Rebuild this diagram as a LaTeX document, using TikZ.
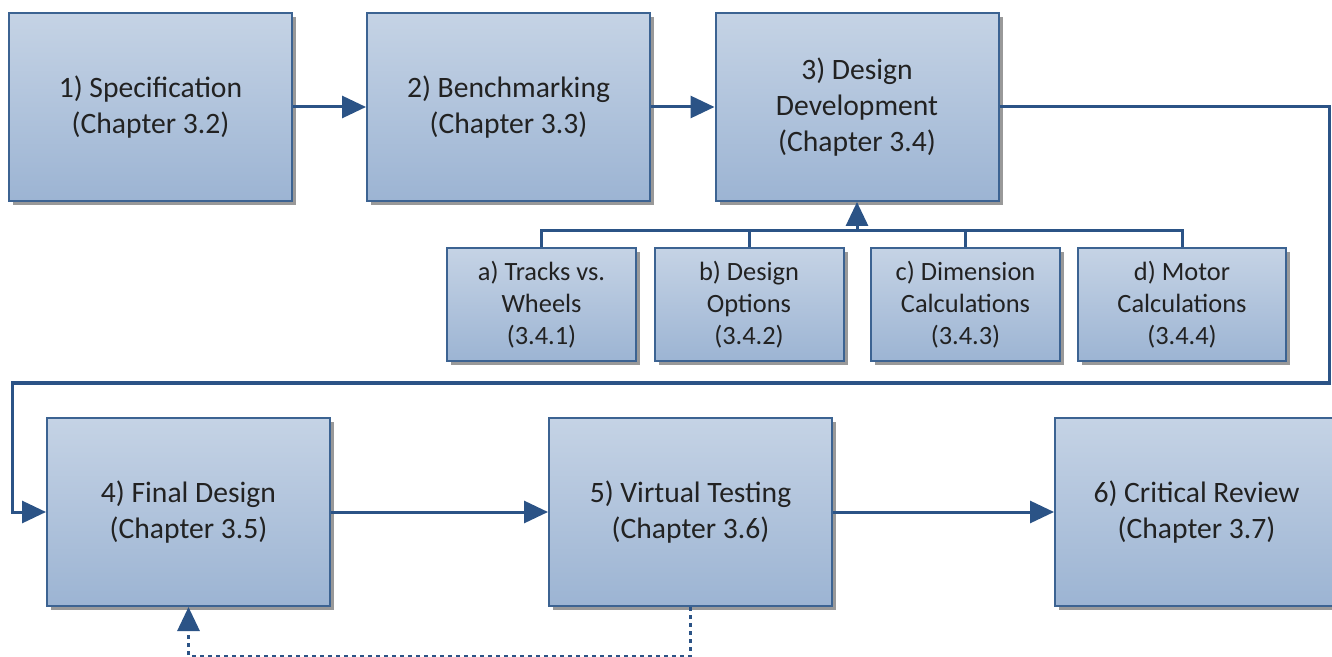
\documentclass[tikz,border=0pt]{standalone}
\usepackage{fontspec}
\setmainfont{Carlito}
\usepackage{tikz}
\usetikzlibrary{arrows.meta,shadows}

\definecolor{boxtop}{HTML}{C5D3E5}
\definecolor{boxbot}{HTML}{9CB4D3}
\definecolor{boxline}{HTML}{3C6392}
\definecolor{linkcol}{HTML}{2B5386}
\definecolor{txt}{HTML}{222222}

\begin{document}
\begin{tikzpicture}[x=0.5pt,y=-0.5pt,
    box/.style={draw=boxline, line width=1pt, top color=boxtop, bottom color=boxbot,
        drop shadow={shadow xshift=2pt, shadow yshift=-2pt, fill=black!40, opacity=1},
        minimum width=141.5pt, minimum height=94pt, align=center, text=txt,
        font=\fontsize{14.8}{18}\selectfont},
    subbox/.style={box, minimum width=94.5pt, minimum height=56.5pt,
        font=\fontsize{13.2}{16}\selectfont},
    link/.style={draw=linkcol, line width=1.5pt, -{Triangle[length=12pt,width=11pt]}},
    bar/.style={draw=linkcol, line width=1.5pt},
    loop/.style={link, dash pattern=on 2pt off 2pt}]
    \useasboundingbox (0,0) rectangle (1332,657);

    \node[box] (spec) at (150.5,107) {1) Specification\\(Chapter 3.2)};
    \node[box] (bench) at (508.5,107) {2) Benchmarking\\(Chapter 3.3)};
    \node[box] (devel) at (857,107) {3) Design\\Development\\(Chapter 3.4)};

    \node[subbox] (tracks) at (541.5,305) {a) Tracks vs.\\Wheels\\(3.4.1)};
    \node[subbox] (options) at (749,305) {b) Design\\Options\\(3.4.2)};
    \node[subbox] (dims) at (965.5,305) {c) Dimension\\Calculations\\(3.4.3)};
    \node[subbox, minimum width=104pt] (motor) at (1182,305) {d) Motor\\Calculations\\(3.4.4)};

    \node[box] (final) at (188.5,512) {4) Final Design\\(Chapter 3.5)};
    \node[box] (virtual) at (690.5,512) {5) Virtual Testing\\(Chapter 3.6)};
    \node[box] (review) at (1196.5,512) {6) Critical Review\\(Chapter 3.7)};

    \draw[link] (spec) -- (bench);
    \draw[link] (bench) -- (devel);
    \draw[link] (devel.east) -- ++(330,0) |- (12,383) |- (final.west);

    \coordinate (bus) at (devel.south |- 0,231);
    \draw[bar] (tracks.north) |- (bus) -| (motor.north);
    \draw[bar] (options.north) -- (options.north |- bus);
    \draw[bar] (dims.north) -- (dims.north |- bus);
    \draw[link] (bus) -- (devel.south);

    \draw[link] (final) -- (virtual);
    \draw[link] (virtual) -- (review);
    \draw[loop] (virtual.south) -- ++(0,49) -| (final.south);
\end{tikzpicture}
\end{document}
